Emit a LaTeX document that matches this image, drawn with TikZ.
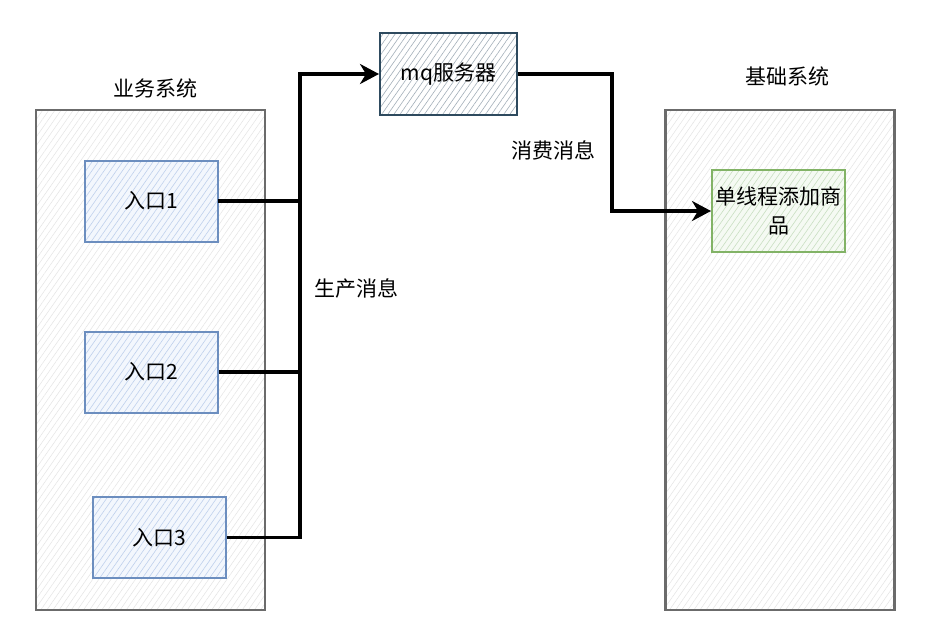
\documentclass[tikz,border=0pt]{standalone}
\usepackage{fontspec}
\setmainfont{Noto Sans CJK SC}
\usetikzlibrary{patterns.meta,arrows.meta,calc}
\definecolor{contborder}{HTML}{6B6B6B}
\definecolor{conthatch}{HTML}{E4E4E4}
\definecolor{blueborder}{HTML}{6C8EBF}
\definecolor{bluehatch}{HTML}{BFD0EC}
\definecolor{bluefill}{HTML}{F3F7FD}
\definecolor{mqborder}{HTML}{2E4A5E}
\definecolor{mqhatch}{HTML}{A3AFB9}
\definecolor{greenborder}{HTML}{82B366}
\definecolor{greenhatch}{HTML}{C9DFC2}
\definecolor{greenfill}{HTML}{F5FAF3}
\tikzset{
  x=1pt, y=-1pt,
  txt/.style={font=\fontsize{21}{29}\selectfont, inner sep=0pt},
  container/.style={draw=contborder, line width=2.4pt, preaction={fill=white},
    pattern={Lines[angle=55,distance=5pt,line width=0.5pt]}, pattern color=conthatch,
    minimum width=229pt, minimum height=500pt, inner sep=0pt},
  entrybox/.style={draw=blueborder, line width=2pt, preaction={fill=bluefill},
    pattern={Lines[angle=55,distance=5pt,line width=0.6pt]}, pattern color=bluehatch,
    minimum width=133pt, minimum height=81pt, inner sep=0pt, font=\fontsize{21}{29}\selectfont},
  mqbox/.style={draw=mqborder, line width=2pt, preaction={fill=white},
    pattern={Lines[angle=55,distance=5pt,line width=0.6pt]}, pattern color=mqhatch,
    minimum width=137pt, minimum height=82pt, inner sep=0pt, font=\fontsize{21}{29}\selectfont},
  goodsbox/.style={draw=greenborder, line width=2pt, preaction={fill=greenfill},
    pattern={Lines[angle=55,distance=5pt,line width=0.6pt]}, pattern color=greenhatch,
    minimum width=133pt, minimum height=82pt, inner sep=0pt, align=center,
    font=\fontsize{21}{29}\selectfont},
  conn/.style={line width=3.4pt, black},
  arr/.style={conn, -{Stealth[length=19pt,width=20pt,inset=6pt]}},
}
\begin{document}
\begin{tikzpicture}
\fill[white] (0,0) rectangle (946,642);
\useasboundingbox (0,0) rectangle (946,642);
% containers
\node[container] (biz) at (150.5,360) {};
\node[container] (base) at (780,360) {};
\node[txt] (bizt) at (155,88) {业务系统};
\node[txt] (baset) at (787,76) {基础系统};
% boxes
\node[entrybox] (e1) at (151.5,201) {入口1};
\node[entrybox] (e2) at (151.5,372) {入口2};
\node[entrybox] (e3) at (159,537.5) {入口3};
\node[mqbox] (mq) at (448.5,74) {mq服务器};
\node[goodsbox] (goods) at (778.5,211) {单线程添加商\\品};
% junctions
\coordinate (j) at (300,74);
\coordinate (k) at (612,211);
% connectors
\draw[conn] (e1.east) -- (e1.east -| j);
\draw[conn] (e2.east) -- (e2.east -| j);
\draw[arr] (e3.east) -| (j) -- (mq.west);
\draw[arr] (mq.east) -| (k) -- (goods.west);
% labels
\node[txt] (prod) at (356,288) {生产消息};
\node[txt] (cons) at (553,150) {消费消息};
\end{tikzpicture}
\end{document}
